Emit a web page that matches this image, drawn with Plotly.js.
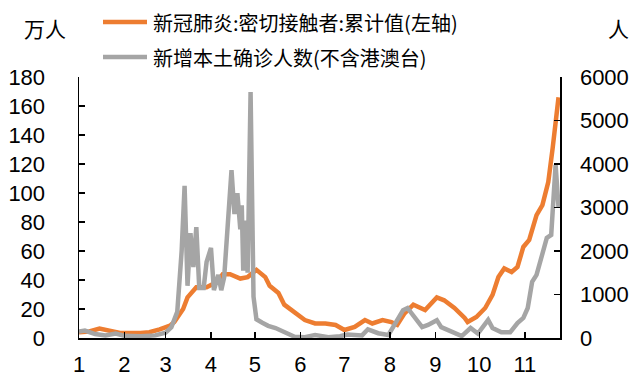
<!DOCTYPE html>
<html><head><meta charset="utf-8">
<script src="https://cdn.plot.ly/plotly-3.0.1.min.js"></script>
<style>html,body{margin:0;padding:0;background:#fff}#chart{width:636px;height:378px}</style>
</head><body><div id="chart"></div>
<script>
// 新冠肺炎:密切接触者:累计值 (万人, left axis)
const contactDates = ['2022-01-01','2022-01-08','2022-01-15','2022-01-22','2022-01-29','2022-02-12','2022-02-18','2022-02-25','2022-03-04','2022-03-07','2022-03-13','2022-03-16','2022-03-20','2022-03-22','2022-03-29','2022-04-05','2022-04-09','2022-04-14','2022-04-21','2022-04-26','2022-05-02','2022-05-08','2022-05-11','2022-05-17','2022-05-21','2022-05-28','2022-06-04','2022-06-11','2022-06-18','2022-06-25','2022-07-01','2022-07-08','2022-07-15','2022-07-20','2022-07-27','2022-08-02','2022-08-06','2022-08-11','2022-08-17','2022-08-25','2022-09-02','2022-09-07','2022-09-14','2022-09-21','2022-09-23','2022-09-29','2022-10-05','2022-10-10','2022-10-14','2022-10-18','2022-10-23','2022-10-27','2022-10-31','2022-11-04','2022-11-09','2022-11-13','2022-11-17','2022-11-20','2022-11-24'];
const contactValues = [4,4.5,6.5,5,3.5,3.5,4,6,8.5,11,20,28,33,35,35,38.6,44,44,41,42,47,42,36,31,23,18,12.4,10,10,9,5.5,7.6,12.4,10,12.4,11,9,17,23,19.3,28,26,20.7,13.8,11,14.5,20.7,29.7,42,48,45.5,49,62.8,67.6,84.8,91.7,107.6,131,166];

// 新增本土确诊人数(不含港澳台) (人, right axis)
const caseDates = ['2022-01-01','2022-01-05','2022-01-12','2022-01-19','2022-01-26','2022-02-01','2022-02-12','2022-02-22','2022-03-01','2022-03-05','2022-03-09','2022-03-12','2022-03-14','2022-03-16','2022-03-18','2022-03-20','2022-03-22','2022-03-24','2022-03-27','2022-03-29','2022-04-01','2022-04-03','2022-04-06','2022-04-08','2022-04-10','2022-04-13','2022-04-15','2022-04-17','2022-04-19','2022-04-21','2022-04-22','2022-04-23','2022-04-25','2022-04-26','2022-04-28','2022-04-30','2022-05-02','2022-05-06','2022-05-10','2022-05-15','2022-05-21','2022-05-28','2022-06-04','2022-06-11','2022-06-20','2022-06-28','2022-07-03','2022-07-13','2022-07-17','2022-07-24','2022-07-31','2022-08-04','2022-08-10','2022-08-13','2022-08-18','2022-08-23','2022-08-27','2022-09-02','2022-09-05','2022-09-10','2022-09-14','2022-09-19','2022-09-25','2022-09-30','2022-10-07','2022-10-10','2022-10-16','2022-10-22','2022-10-27','2022-10-31','2022-11-03','2022-11-06','2022-11-09','2022-11-13','2022-11-16','2022-11-19','2022-11-22','2022-11-24'];
const caseValues = [150,170,90,60,100,50,40,60,120,250,600,2000,3500,1200,2410,1630,2550,1150,1150,1750,2070,1100,1450,1100,1400,3100,3860,2850,3330,2500,3050,1550,2700,1500,5655,950,430,350,280,230,140,30,20,70,20,40,80,60,200,110,70,300,640,690,480,250,300,410,250,180,130,45,230,100,414,230,130,130,345,460,690,1290,1450,1980,2300,2370,3980,3010];

const monthTickVals = ['2022-01-01','2022-02-01','2022-03-01','2022-04-01','2022-05-01','2022-06-01','2022-07-01','2022-08-01','2022-09-01','2022-10-01','2022-11-01'];
const monthTickText = ['1','2','3','4','5','6','7','8','9','10','11'];
const leftTicks = [0,20,40,60,80,100,120,140,160,180];
const rightTicks = [0,1000,2000,3000,4000,5000,6000];

const seriesNames = ['新冠肺炎:密切接触者:累计值(左轴)', '新增本土确诊人数(不含港澳台)'];
const seriesColors = ['#ED7D31', '#A5A5A5'];

const numFont = {family:'Liberation Sans, Arial, sans-serif', size:22, color:'#000'};
const cjkFont = {family:'Noto Sans CJK SC, sans-serif', size:20, color:'#000'};

const traces = [
  {x: contactDates, y: contactValues, type:'scatter', mode:'lines', name:seriesNames[0],
   line:{color:seriesColors[0], width:4.5}, yaxis:'y'},
  {x: caseDates, y: caseValues, type:'scatter', mode:'lines', name:seriesNames[1],
   line:{color:seriesColors[1], width:4.5}, yaxis:'y2'}
];

// pixel helpers for paper coordinates (plot area: x 79..560, y 77..338)
const px = v => (v - 79) / 481;
const py = v => (338 - v) / 261;

const legendRowsY = [22, 57];
const shapes = [];
const annotations = [];
for (let i = 0; i < 2; i++) {
  shapes.push({type:'line', xref:'paper', yref:'paper', x0:px(103), x1:px(147), y0:py(legendRowsY[i]), y1:py(legendRowsY[i]),
    line:{color:seriesColors[i], width:4.5}});
  annotations.push({text:seriesNames[i], xref:'paper', yref:'paper', x:px(151), y:py(legendRowsY[i]), xanchor:'left', yanchor:'middle',
    showarrow:false, font:cjkFont});
}
annotations.push({text:'万人', xref:'paper', yref:'paper', x:px(45), y:py(28), xanchor:'center', yanchor:'middle', showarrow:false, font:{family:'Noto Sans CJK SC, sans-serif', size:21, color:'#000'}});
annotations.push({text:'人', xref:'paper', yref:'paper', x:px(618), y:py(28), xanchor:'center', yanchor:'middle', showarrow:false, font:{family:'Noto Sans CJK SC, sans-serif', size:21, color:'#000'}});

const layout = {
  width:636, height:378,
  margin:{l:79, r:76, t:77, b:40},
  paper_bgcolor:'#fff', plot_bgcolor:'#fff',
  showlegend:false,
  xaxis:{type:'date', range:['2022-01-01','2022-11-25'], tickmode:'array', tickvals:monthTickVals, ticktext:monthTickText,
    showgrid:false, zeroline:false, showline:true, linecolor:'#000', linewidth:1.5,
    ticks:'inside', ticklen:6, tickwidth:1.5, tickcolor:'#000', tickfont:numFont, ticklabelstandoff:6},
  yaxis:{range:[0,180], tickmode:'array', tickvals:leftTicks, showgrid:false, zeroline:false,
    showline:true, linecolor:'#000', linewidth:1.5, ticks:'inside', ticklen:6, tickwidth:1.5, tickcolor:'#000',
    tickfont:numFont, ticklabelstandoff:28},
  yaxis2:{range:[0,6000], overlaying:'y', side:'right', tickmode:'array', tickvals:rightTicks, showgrid:false, zeroline:false,
    showline:true, linecolor:'#000', linewidth:1.5, ticks:'inside', ticklen:6, tickwidth:1.5, tickcolor:'#000',
    tickfont:numFont, ticklabelstandoff:14},
  shapes: shapes,
  annotations: annotations
};

Plotly.newPlot('chart', traces, layout, {displayModeBar:false, staticPlot:true});
</script>
</body></html>
